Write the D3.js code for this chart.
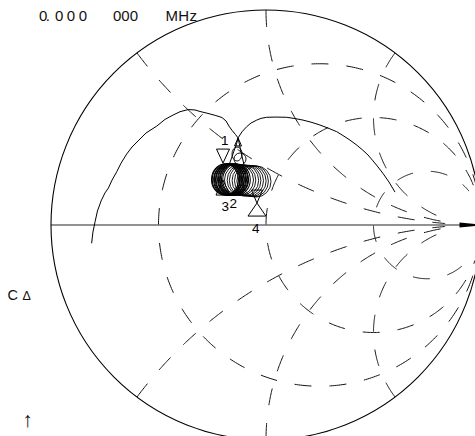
<!DOCTYPE html>
<html><head><meta charset="utf-8">
<script src="https://cdn.jsdelivr.net/npm/d3@7"></script>
<style>html,body{margin:0;padding:0;background:#fff;overflow:hidden}text{font-family:"Liberation Sans",Arial,sans-serif}</style>
</head><body><svg id="c" width="475" height="436"></svg>
<script>
// ---- chart data (reflection coefficient plane, Re/Im of Gamma) ----
const resistanceCircles = [1/3, 1, 3];
const resistancePhase = ["dash", "dash", "gap"];   // which comes first above the axis
const reactanceCircles = [0.5, 1, 2, -0.5, -1, -2];

const headerLabels = ["0.", "000", "000", "MHz"];
const headerX = [39, 55, 113, 165.5];
const headerW = [11, 32, 25, 31.5];

const traceLeft = [
  [-0.811,-0.085],[-0.805,-0.033],[-0.795,0.015],[-0.784,0.065],[-0.767,0.112],
  [-0.749,0.149],[-0.733,0.172],[-0.716,0.209],[-0.694,0.248],[-0.674,0.288],
  [-0.648,0.330],[-0.623,0.363],[-0.595,0.391],[-0.558,0.428],[-0.508,0.460],
  [-0.470,0.491],[-0.437,0.509],[-0.400,0.527],[-0.361,0.537],[-0.330,0.535],
  [-0.307,0.528],[-0.270,0.519],[-0.233,0.509],[-0.205,0.500],[-0.186,0.484],
  [-0.172,0.460],[-0.158,0.440],[-0.142,0.421],[-0.130,0.405]
];
const traceDown = [[-0.130,0.405],[-0.137,0.377],[-0.149,0.344],[-0.160,0.312],[-0.172,0.279]];
const traceUp = [[-0.102,0.279],[-0.112,0.321],[-0.121,0.363],[-0.130,0.405]];
const traceRight = [
  [-0.130,0.405],[-0.112,0.433],[-0.090,0.457],[-0.070,0.474],[-0.043,0.488],
  [-0.023,0.496],[0.003,0.501],[0.047,0.502],[0.096,0.501],[0.135,0.495],
  [0.172,0.488],[0.214,0.477],[0.251,0.465],[0.288,0.451],[0.329,0.434],
  [0.358,0.416],[0.386,0.398],[0.419,0.374],[0.447,0.351],[0.474,0.326],
  [0.498,0.298],[0.521,0.270],[0.544,0.240],[0.572,0.200],[0.600,0.153]
];
// loops of the trace: centre Re, centre Im, half-width, half-height (Gamma units)
const loopRe = [-0.1907,-0.1860,-0.1814,-0.1767,-0.1721,-0.1674,-0.1628,-0.1581,-0.1535,-0.1488,-0.1442,-0.1372,
                -0.1256,-0.1140,-0.1023,-0.0907,-0.0791,-0.0674,-0.0558,-0.0442,-0.1349,-0.1209];
const loopIm = [0.2116,0.2120,0.2110,0.2125,0.2116,0.2105,0.2120,0.2116,0.2110,0.2120,0.2116,0.2110,
                0.2093,0.2084,0.2074,0.2065,0.2056,0.2047,0.2037,0.2023,0.3302,0.3070];
const loopRx = [0.0628,0.0640,0.0620,0.0635,0.0628,0.0645,0.0625,0.0635,0.0628,0.0640,0.0630,0.0640,
                0.0674,0.0665,0.0680,0.0670,0.0674,0.0680,0.0670,0.0674,0.0233,0.0279];
const loopRy = [0.0721,0.0730,0.0715,0.0725,0.0721,0.0735,0.0715,0.0725,0.0721,0.0730,0.0720,0.0725,
                0.0721,0.0715,0.0730,0.0721,0.0725,0.0721,0.0730,0.0721,0.0326,0.0279];

// markers: position on Gamma plane, symbol, label
const markerRe = [-0.130, -0.200, -0.200, -0.042, -0.042];
const markerIm = [0.405, 0.288, 0.209, 0.102, 0.102];
const markerKind = ["up", "down", "up", "down", "up"];
const markerSize = [[7,8],[13,14],[14,15],[11,13],[18,13]];
const markerLabels = ["1", "3", "2", "4"];
const markerLabelRe = [-0.209, -0.207, -0.170, -0.065];
const markerLabelIm = [0.372, 0.065, 0.079, -0.037];

// ---- drawing ----
const svg = d3.select("#c");
const sx = d3.scaleLinear().domain([-1, 1]).range([51, 481]);
const sy = d3.scaleLinear().domain([-1, 1]).range([440, 10]);
const line = d3.line().x(d => sx(d[0])).y(d => sy(d[1]));

const defs = svg.append("defs");
const mask = defs.append("mask").attr("id", "gm").attr("maskUnits", "userSpaceOnUse");
mask.append("rect").attr("x", -10).attr("y", -10).attr("width", 500).attr("height", 460).attr("fill", "#fff");
mask.append("circle").attr("cx", sx(1)).attr("cy", sy(0)).attr("r", 36).attr("fill", "#000");

const grid = svg.append("g").attr("mask", "url(#gm)")
  .attr("fill", "none").attr("stroke", "#111").attr("stroke-width", 1);

const N = 240;
resistanceCircles.forEach((r, i) => {
  const c = r / (1 + r), rho = 1 / (1 + r);
  const upper = d3.range(N + 1).map(k => { const t = Math.PI - Math.PI * k / N; return [c + rho * Math.cos(t), rho * Math.sin(t)]; });
  const lower = d3.range(N + 1).map(k => { const t = Math.PI + Math.PI * k / N; return [c + rho * Math.cos(t), rho * Math.sin(t)]; });
  const upFirst = resistancePhase[i] === "dash";
  grid.append("path").attr("d", line(upper)).attr("stroke-dasharray", upFirst ? "17 18" : "0 18 17 0");
  grid.append("path").attr("d", line(lower)).attr("stroke-dasharray", upFirst ? "0 18 17 0" : "17 18");
});
reactanceCircles.forEach(x => {
  const ax = Math.abs(x), s = Math.sign(x);
  const g0 = [(ax * ax - 1) / (ax * ax + 1), 2 * ax / (ax * ax + 1)];
  let p0 = Math.atan2(g0[1] - 1 / ax, g0[0] - 1); if (p0 < 0) p0 += 2 * Math.PI;
  const p1 = 1.5 * Math.PI;
  const pts = d3.range(N + 1).map(k => {
    const t = p0 + (p1 - p0) * k / N;
    return [1 + Math.cos(t) / ax, s * (1 / ax + Math.sin(t) / ax)];
  });
  grid.append("path").attr("d", line(pts)).attr("stroke-dasharray", "17 18");
});

// real axis and arrow
svg.append("line").attr("x1", sx(-1)).attr("x2", sx(0.91)).attr("y1", sy(0)).attr("y2", sy(0))
  .attr("stroke", "#6e6e6e").attr("stroke-width", 1.7);
svg.append("path").attr("d", `M${sx(0.9)},${sy(0)-2.6}L${sx(1.01)},${sy(0)}L${sx(0.9)},${sy(0)+2.6}Z`).attr("fill", "#000");

// outer circle
svg.append("circle").attr("cx", sx(0)).attr("cy", sy(0)).attr("r", sx(1) - sx(0))
  .attr("fill", "none").attr("stroke", "#000").attr("stroke-width", 1.1);

// trace
const tr = svg.append("g").attr("fill", "none").attr("stroke", "#000").attr("stroke-width", 1);
[traceLeft, traceDown, traceUp, traceRight].forEach(t => tr.append("path").attr("d", line(t)));
loopRe.forEach((c, i) => {
  tr.append("ellipse").attr("cx", sx(c)).attr("cy", sy(loopIm[i]))
    .attr("rx", sx(loopRx[i]) - sx(0)).attr("ry", sx(loopRy[i]) - sx(0))
    .attr("stroke-width", i < 12 ? 1.05 : 0.9);
});

// markers
const mk = svg.append("g").attr("fill", "none").attr("stroke", "#000").attr("stroke-width", 1);
markerRe.forEach((m, i) => {
  const px = sx(m), py = sy(markerIm[i]);
  const [w, h] = markerSize[i];
  const d = markerKind[i] === "up"
    ? `M${px},${py}L${px - w/2},${py + h}L${px + w/2},${py + h}Z`
    : `M${px},${py}L${px - w/2},${py - h}L${px + w/2},${py - h}Z`;
  mk.append("path").attr("d", d);
});
markerLabels.forEach((l, i) => {
  svg.append("text").attr("x", sx(markerLabelRe[i])).attr("y", sy(markerLabelIm[i]))
    .attr("font-size", 13.5).attr("fill", "#000").text(l);
});

// header text
headerLabels.forEach((t, i) => {
  svg.append("text").attr("x", headerX[i]).attr("y", 21).attr("font-size", 15).attr("fill", "#111")
    .attr("textLength", headerW[i]).attr("lengthAdjust", "spacing").text(t);
});
// side annotations
svg.append("text").attr("x", 7.5).attr("y", 299.5).attr("font-size", 14.5).attr("fill", "#111").text("C");
svg.append("text").attr("x", 22.5).attr("y", 299.5).attr("font-size", 12.5).attr("fill", "#111").text("Δ");
svg.append("text").attr("x", 27.5).attr("y", 427).attr("font-size", 21).attr("text-anchor", "middle")
  .attr("fill", "#111").text("↑");
</script></body></html>
